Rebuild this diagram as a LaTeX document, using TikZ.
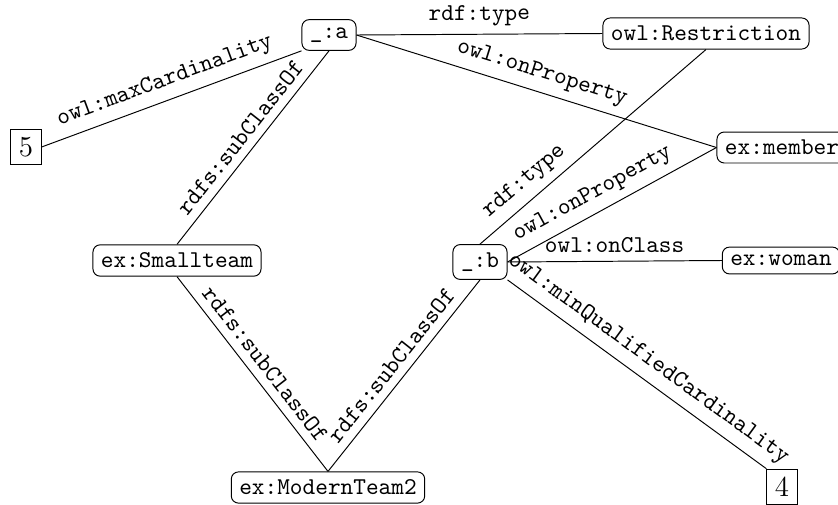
\documentclass[tikz,border=0pt]{standalone}
\begin{document}
\begin{tikzpicture}[x=0.4144pt,y=-0.4144pt,
  res/.style={draw, rounded corners=3pt, font=\ttfamily, inner sep=3.33pt},
  lit/.style={draw, font=\large, inner sep=3.33pt},
  lab/.style={font=\ttfamily, sloped, above}]
\useasboundingbox (0,0) rectangle (838,505);
\node[res] (a) at (329,35) {\_:a};
\node[res] (R) at (706,33.5) {owl:Restriction};
\node[res] (member) at (782,147.5) {ex:member};
\node[res] (woman) at (781,260.5) {ex:woman};
\node[res] (b) at (480,262) {\_:b};
\node[res] (small) at (177,260.5) {ex:Smallteam};
\node[res] (mt) at (328,487.5) {ex:ModernTeam2};
\node[lit] (five) at (26,147) {5};
\node[lit] (four) at (782,487) {4};
\draw (a.east) -- node[lab]{rdf:type} (R.west);
\draw (a.east) -- node[lab]{owl:onProperty} (member.west);
\draw (five.east) -- node[lab]{owl:maxCardinality} (a.south west);
\draw (small.north) -- node[lab]{rdfs:subClassOf} (a.south);
\draw (small.south) -- node[lab]{rdfs:subClassOf} (mt.north);
\draw (mt.north) -- node[lab]{rdfs:subClassOf} (b.south);
\draw (b.north) -- node[lab,pos=0.25]{rdf:type} (R.south);
\draw (b.east) -- node[lab,pos=0.45]{owl:onProperty} (member.west);
\draw (b.east) -- node[lab]{owl:onClass} (woman.west);
\draw (b.south east) -- node[lab]{owl:minQualifiedCardinality} (four.north west);
\end{tikzpicture}
\end{document}
